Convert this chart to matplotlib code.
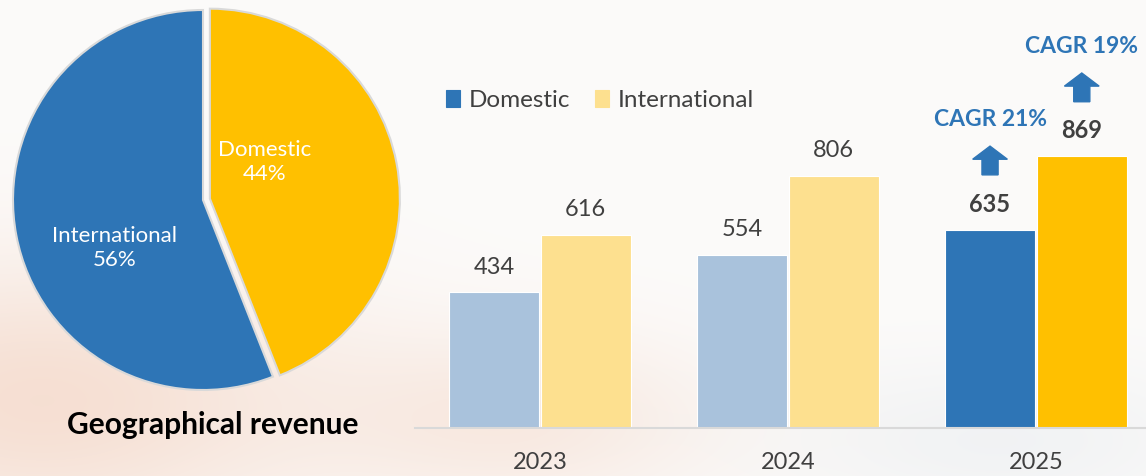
import matplotlib.pyplot as plt
import numpy as np
from matplotlib.patches import FancyArrow

plt.rcParams['font.family'] = ['Lato', 'DejaVu Sans']

# data
pie_labels = ['Domestic', 'International']
pie_shares = [44, 56]

years = ['2023', '2024', '2025']
domestic = [434, 554, 635]
international = [616, 806, 869]
cagr_domestic = 'CAGR 21%'
cagr_international = 'CAGR 19%'

blue = '#2E75B6'
gold = '#FFC000'
pale_blue = '#A9C2DC'
pale_gold = '#FDE08F'
text_grey = '#404040'

W, H = 1146, 476
fig = plt.figure(figsize=(W / 100, H / 100), dpi=100)

# soft background wash
bg = fig.add_axes([0, 0, 1, 1], zorder=-10)
yy, xx = np.mgrid[0:H, 0:W]
img = np.ones((H, W, 3)) * np.array([252, 251, 250]) / 255
warm = np.exp(-(((xx - 40) / 280) ** 2 + ((yy - 400) / 140) ** 2))
warm2 = np.exp(-(((xx - 520) / 200) ** 2 + ((yy - 420) / 90) ** 2)) * 0.6
cool = np.exp(-(((xx - 1000) / 220) ** 2 + ((yy - 440) / 80) ** 2)) * 0.5
for c, (a, b) in enumerate(zip([242, 205, 185], [200, 210, 220])):
    img[..., c] = img[..., c] * (1 - 0.6 * (warm + warm2)) + a / 255 * 0.6 * (warm + warm2)
    img[..., c] = img[..., c] * (1 - 0.4 * cool) + b / 255 * 0.4 * cool
img = np.clip(img, 0, 1)
bg.imshow(img, aspect='auto', extent=[0, W, H, 0])
bg.axis('off')

# pie
cx, cy, half = 203, 200, 200
ax_pie = fig.add_axes([(cx - half) / W, (H - cy - half) / H, 2 * half / W, 2 * half / H])
ax_pie.pie(pie_shares, colors=[gold, blue], startangle=90, counterclock=False,
           radius=0.95, explode=[0.035, 0],
           wedgeprops=dict(edgecolor='#D9D9D9', linewidth=1.5))
ax_pie.set_xlim(-1, 1)
ax_pie.set_ylim(-1, 1)
ax_pie.set_aspect('equal')
ax_pie.axis('off')
ax_pie.text(0.31, 0.19, f'{pie_labels[0]}\n{pie_shares[0]}%', color='white',
            fontsize=16, ha='center', va='center', linespacing=1.25)
ax_pie.text(-0.44, -0.24, f'{pie_labels[1]}\n{pie_shares[1]}%', color='white',
            fontsize=16, ha='center', va='center', linespacing=1.25)
fig.text(213 / W, 1 - 425 / H, 'Geographical revenue', fontsize=21.5,
         fontweight='bold', ha='center', va='center', color='black')

# bars
px_per_unit = 0.3125
base_px = 428
left_px = 415
ax = fig.add_axes([left_px / W, (H - base_px) / H, 1 - left_px / W, base_px / H])
x = np.arange(len(years))
bw = 0.363
off = 0.185
dom_colors = [pale_blue, pale_blue, blue]
int_colors = [pale_gold, pale_gold, gold]
ax.bar(x - off, domestic, bw, color=dom_colors, edgecolor='white', linewidth=0.8,
       label='Domestic')
ax.bar(x + off, international, bw, color=int_colors, edgecolor='white', linewidth=0.8,
       label='International')
ax.set_xlim(-0.504, 2.444)
ax.set_ylim(0, base_px / px_per_unit)
ax.patch.set_alpha(0)
for s in ['top', 'right', 'left']:
    ax.spines[s].set_visible(False)
ax.spines['bottom'].set_color('#D9D9D9')
ax.spines['bottom'].set_linewidth(1.5)
ax.set_yticks([])
ax.set_xticks(x)
ax.set_xticklabels(years, fontsize=17, color=text_grey)
ax.tick_params(axis='x', length=0, pad=17)

for i in range(len(years)):
    bold = 'bold' if i == len(years) - 1 else 'normal'
    ax.annotate(str(domestic[i]), (x[i] - off, domestic[i]), xytext=(0, 25),
                textcoords='offset pixels', ha='center', va='center',
                fontsize=17, color=text_grey, fontweight=bold)
    ax.annotate(str(international[i]), (x[i] + off, international[i]), xytext=(0, 26),
                textcoords='offset pixels', ha='center', va='center',
                fontsize=17, color=text_grey, fontweight=bold)

# CAGR arrows on the last year
last = len(years) - 1
for xpos, val, lab in [(x[last] - off, domestic[last], cagr_domestic),
                       (x[last] + off, international[last], cagr_international)]:
    ax.add_patch(FancyArrow(xpos, val + 175, 0, 92, width=0.065, head_width=0.14,
                            head_length=42, length_includes_head=True,
                            color=blue, clip_on=False))
    ax.text(xpos, val + 352, lab, ha='center', va='center', fontsize=16.5,
            fontweight='bold', color=blue, clip_on=False)

leg = ax.legend(loc='upper left', bbox_to_anchor=(0.042, 0.79), ncol=2, frameon=False,
                fontsize=17.5, handlelength=0.6, handleheight=0.7, handletextpad=0.35,
                columnspacing=1.0, labelcolor=text_grey, borderpad=0, borderaxespad=0)
leg.legend_handles[0].set_color(blue)
leg.legend_handles[1].set_color(pale_gold)

fig.savefig('out.png', dpi=100)
